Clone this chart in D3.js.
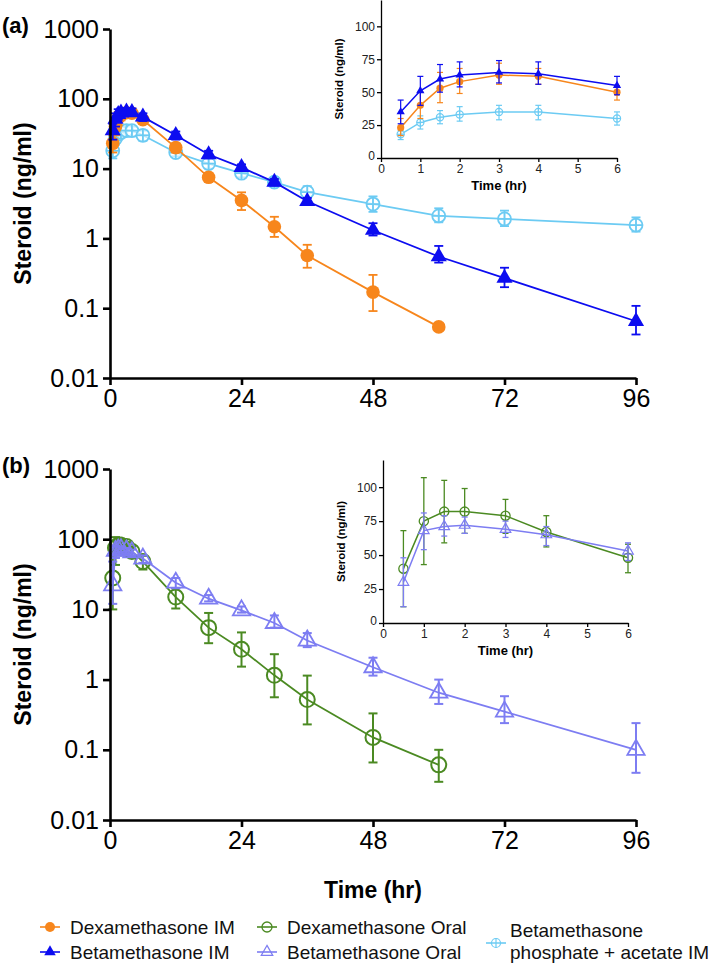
<!DOCTYPE html>
<html>
<head>
<meta charset="utf-8">
<title>Steroid concentration</title>
<style>
  body { margin: 0; background: #fff; }
  svg { display: block; font-family: "Liberation Sans", Arial, sans-serif; }
</style>
</head>
<body>
<svg width="709" height="963"></svg>
<script src="https://d3js.org/d3.v7.min.js"></script>
<script>

// ---- data (ng/ml) ----
var timesAll = [0.5, 1, 1.5, 2, 3, 4, 6, 12, 18, 24, 30, 36, 48, 60, 72, 96];
var timesDex = [0.5, 1, 1.5, 2, 3, 4, 6, 12, 18, 24, 30, 36, 48, 60];

var dexIM   = [23, 40, 53, 58, 63, 62, 50, 20, 7.5, 3.5, 1.47, 0.57, 0.17, 0.054];
var dexIMLo = [17, 30, 42, 49, 56, 56, 44, 17, 6.5, 2.55, 1.05, 0.38, 0.091, null];
var dexIMHi = [30, 50, 65, 68, 72, 68, 55, 23, 8.7, 4.57, 2.04, 0.81, 0.30, null];

var betIM   = [35, 51, 60, 63, 65, 64, 55, 30, 15.9, 10.4, 6.4, 3.4, 1.31, 0.55, 0.27, 0.065];
var betIMLo = [26, 40, 50, 54, 57, 56, 48, 26, 14, 9.3, 5.7, 3.0, 1.1, 0.45, 0.2, 0.042];
var betIMHi = [44, 62, 71, 73, 74, 73, 62, 34, 18, 11.5, 7.1, 3.8, 1.65, 0.78, 0.38, 0.108];

var betPA   = [18, 27, 31, 33, 35, 35, 30, 17, 11.8, 8.6, 6.4, 4.6, 3.1, 2.1, 1.9, 1.55];
var betPALo = [14, 22, 26, 28, 29, 29, 25, 15, 10, 7.5, 5.5, 3.8, 2.4, 1.7, 1.5, 1.25];
var betPAHi = [21, 32, 36, 39, 40, 40, 35, 20, 14, 9.8, 7.5, 5.6, 4.0, 2.7, 2.5, 2.0];

var dexOral   = [28, 75, 82, 82, 79, 67, 48, 15, 5.5, 2.7, 1.15, 0.52, 0.15, 0.061];
var dexOralLo = [10, 43, 59, 66, 66, 56, 37, 10.3, 3.3, 1.53, 0.56, 0.23, 0.066, 0.035];
var dexOralHi = [68, 107, 105, 99, 91, 79, 58, 20, 8.9, 4.7, 2.3, 1.14, 0.33, 0.1];

var betOral   = [22, 68, 71, 72, 69, 65, 53, 24, 14.2, 9.7, 6.4, 3.6, 1.5, 0.65, 0.35, 0.1];
var betOralLo = [12, 54, 64, 66, 63, 57, 46, 20, 13, 9, 5.5, 2.9, 1.14, 0.45, 0.24, 0.047];
var betOralHi = [48, 81, 79, 78, 75, 71, 59, 28, 16, 11, 8.2, 4.6, 2.05, 1.0, 0.58, 0.24];

// insets (first 6 h, linear axis)
var insetTimes = [0.5, 1, 1.5, 2, 3, 4, 6];
var insetDexOral   = [40, 75, 82, 82, 79, 67, 48];
var insetDexOralLo = [12, 43, 59, 66, 66, 56, 37];
var insetBetOral   = [30, 68, 71, 72, 69, 65, 53];

var logTicks = [0.01, 0.1, 1, 10, 100, 1000];
var hourTicks = [0, 24, 48, 72, 96];
var insetYTicks = [0, 25, 50, 75, 100];
var insetXTicks = [0, 1, 2, 3, 4, 5, 6];

var legendItems = [
  {label: ["Dexamethasone IM"], color: "#f7861c", mark: "dot"},
  {label: ["Betamethasone IM"], color: "#0c0cf0", mark: "tri"},
  {label: ["Dexamethasone Oral"], color: "#4b8a22", mark: "ring"},
  {label: ["Betamethasone Oral"], color: "#7d7df2", mark: "openTri"},
  {label: ["Betamethasone", "phosphate + acetate IM"], color: "#6ccbf3", mark: "crossCircle"}
];

var cDex = "#f7861c", cBet = "#0c0cf0", cPA = "#6ccbf3", cDexO = "#4b8a22", cBetO = "#7d7df2";

var svg = d3.select("svg");
svg.append("rect").attr("width", 709).attr("height", 963).attr("fill", "#fff");

// draw a marker of a given kind at (0,0) in selection g
function marker(g, kind, color, s) {
  if (kind == "dot") {
    g.append("circle").attr("r", s).attr("fill", color);
  } else if (kind == "tri") {
    g.append("path").attr("d", d3.symbol(d3.symbolTriangle, s * s * 2.3)()).attr("fill", color);
  } else if (kind == "ring") {
    g.append("circle").attr("r", s).attr("fill", "none").attr("stroke", color).attr("stroke-width", s > 5 ? 2 : 1.3);
  } else if (kind == "openTri") {
    g.append("path").attr("d", d3.symbol(d3.symbolTriangle, s * s * 2.3)())
      .attr("fill", "none").attr("stroke", color).attr("stroke-width", s > 5 ? 1.8 : 1.2);
  } else if (kind == "crossCircle") {
    var w = s > 5 ? 1.8 : 1.2;
    g.append("circle").attr("r", s).attr("fill", "#fff").attr("fill-opacity", 0.6)
      .attr("stroke", color).attr("stroke-width", w);
    g.append("line").attr("x1", -s).attr("x2", s).attr("stroke", color).attr("stroke-width", w);
    g.append("line").attr("y1", -s).attr("y2", s).attr("stroke", color).attr("stroke-width", w);
  }
}

function drawSeries(g, x, y, times, vals, lo, hi, color, kind, opt) {
  var pts = times.map(function(t, i) { return {t: t, v: vals[i], lo: lo[i], hi: hi[i]}; });
  var line = d3.line().x(function(d) { return x(d.t); }).y(function(d) { return y(d.v); });

  g.append("path").datum(pts)
    .attr("fill", "none").attr("stroke", color).attr("stroke-width", opt.lw)
    .attr("d", line);

  var eb = g.append("g").attr("stroke", color).attr("stroke-width", opt.ew);
  pts.filter(function(d) { return d.lo != null; }).forEach(function(d) {
    var cx = x(d.t);
    eb.append("line").attr("x1", cx).attr("x2", cx).attr("y1", y(d.lo)).attr("y2", y(d.hi));
    eb.append("line").attr("x1", cx - opt.cap).attr("x2", cx + opt.cap).attr("y1", y(d.lo)).attr("y2", y(d.lo));
    eb.append("line").attr("x1", cx - opt.cap).attr("x2", cx + opt.cap).attr("y1", y(d.hi)).attr("y2", y(d.hi));
  });

  pts.forEach(function(d) {
    var m = g.append("g").attr("transform", "translate(" + x(d.t) + "," + y(d.v) + ")");
    marker(m, kind, color, opt.size);
  });
}

function mainAxes(g, x, y) {
  var ax = g.append("g").attr("transform", "translate(0," + y.range()[0] + ")")
    .call(d3.axisBottom(x).tickValues(hourTicks).tickSize(7).tickSizeOuter(0).tickPadding(4));
  var ay = g.append("g").attr("transform", "translate(" + x.range()[0] + ",0)")
    .call(d3.axisLeft(y).tickValues(logTicks).tickSize(7).tickSizeOuter(0).tickPadding(4)
      .tickFormat(function(d) { return d >= 1 ? d3.format("d")(d) : String(d); }));
  [ax, ay].forEach(function(a) {
    a.selectAll("path, line").attr("stroke", "#000").attr("stroke-width", 2.6);
    a.selectAll("text").attr("font-size", 25).attr("fill", "#000").attr("font-family", null);
  });
}

function insetAxes(g, x, y) {
  var ax = g.append("g").attr("transform", "translate(0," + y.range()[0] + ")")
    .call(d3.axisBottom(x).tickValues(insetXTicks).tickSize(4).tickSizeOuter(0).tickPadding(2)
      .tickFormat(d3.format("d")));
  var ay = g.append("g").attr("transform", "translate(" + x.range()[0] + ",0)")
    .call(d3.axisLeft(y).tickValues(insetYTicks).tickSize(4).tickSizeOuter(0).tickPadding(2)
      .tickFormat(d3.format("d")));
  [ax, ay].forEach(function(a) {
    a.selectAll("path, line").attr("stroke", "#000").attr("stroke-width", 1.3);
    a.selectAll("text").attr("font-size", 12).attr("fill", "#222").attr("font-family", null);
  });
  // nudge the y "0" up a little so it clears the x "0"
  ay.selectAll(".tick text").filter(function(d) { return d == 0; }).attr("dy", "0.1em");
  g.append("text")
    .attr("x", (x.range()[0] + x.range()[1]) / 2).attr("y", y.range()[0] + 32)
    .attr("text-anchor", "middle").attr("font-weight", "bold").attr("font-size", 13)
    .text("Time (hr)");
  g.append("text")
    .attr("transform", "translate(" + (x.range()[0] - 38) + "," + ((y.range()[0] + y.range()[1]) / 2) + ") rotate(-90)")
    .attr("text-anchor", "middle").attr("font-weight", "bold").attr("font-size", 11.5)
    .text("Steroid (ng/ml)");
}

// ---------------- panel (a) ----------------
var xa = d3.scaleLinear().domain([0, 96]).range([110, 636]);
var ya = d3.scaleLog().domain([0.01, 1000]).range([378, 29]);
var ga = svg.append("g");

drawSeries(ga, xa, ya, timesAll, betPA, betPALo, betPAHi, cPA, "crossCircle", {lw: 1.8, ew: 1.8, cap: 4.5, size: 6.5});
drawSeries(ga, xa, ya, timesDex, dexIM, dexIMLo, dexIMHi, cDex, "dot", {lw: 1.8, ew: 1.8, cap: 4.5, size: 6.8});
drawSeries(ga, xa, ya, timesAll, betIM, betIMLo, betIMHi, cBet, "tri", {lw: 1.8, ew: 1.8, cap: 4.5, size: 7});
mainAxes(ga, xa, ya);

ga.append("text").attr("x", 2).attr("y", 33).attr("font-weight", "bold").attr("font-size", 22).text("(a)");
ga.append("text")
  .attr("transform", "translate(31," + ((ya.range()[0] + ya.range()[1]) / 2) + ") rotate(-90)")
  .attr("text-anchor", "middle").attr("font-weight", "bold").attr("font-size", 23)
  .text("Steroid (ng/ml)");

// inset (a)
var xia = d3.scaleLinear().domain([0, 6]).range([381, 617]);
var yia = d3.scaleLinear().domain([0, 120]).range([158, 0]);
var gia = svg.append("g");
var insetOpt = {lw: 1.5, ew: 1.2, cap: 3, size: 3.6};
drawSeries(gia, xia, yia, insetTimes, betPA.slice(0, 7), betPALo.slice(0, 7), betPAHi.slice(0, 7), cPA, "crossCircle", insetOpt);
drawSeries(gia, xia, yia, insetTimes, dexIM.slice(0, 7), dexIMLo.slice(0, 7), dexIMHi.slice(0, 7), cDex, "dot", insetOpt);
drawSeries(gia, xia, yia, insetTimes, betIM.slice(0, 7), betIMLo.slice(0, 7), betIMHi.slice(0, 7), cBet, "tri", insetOpt);
insetAxes(gia, xia, yia);

// ---------------- panel (b) ----------------
var xb = d3.scaleLinear().domain([0, 96]).range([110, 636]);
var yb = d3.scaleLog().domain([0.01, 1000]).range([820, 469]);
var gb = svg.append("g");

drawSeries(gb, xb, yb, timesDex, dexOral, dexOralLo, dexOralHi, cDexO, "ring", {lw: 1.8, ew: 2, cap: 4.5, size: 7.5});
drawSeries(gb, xb, yb, timesAll, betOral, betOralLo, betOralHi, cBetO, "openTri", {lw: 1.8, ew: 2, cap: 4.5, size: 7.5});
mainAxes(gb, xb, yb);

gb.append("text").attr("x", 2).attr("y", 473).attr("font-weight", "bold").attr("font-size", 22).text("(b)");
gb.append("text")
  .attr("transform", "translate(31," + ((yb.range()[0] + yb.range()[1]) / 2) + ") rotate(-90)")
  .attr("text-anchor", "middle").attr("font-weight", "bold").attr("font-size", 23)
  .text("Steroid (ng/ml)");
gb.append("text")
  .attr("x", (xb.range()[0] + xb.range()[1]) / 2).attr("y", 898)
  .attr("text-anchor", "middle").attr("font-weight", "bold").attr("font-size", 23)
  .text("Time (hr)");

// inset (b)
var xib = d3.scaleLinear().domain([0, 6]).range([383, 628]);
var yib = d3.scaleLinear().domain([0, 120]).range([623, 460]);
var gib = svg.append("g");
var insetOptB = {lw: 1.5, ew: 1.3, cap: 3, size: 4.6};
drawSeries(gib, xib, yib, insetTimes, insetDexOral, insetDexOralLo, dexOralHi.slice(0, 7), cDexO, "ring", insetOptB);
drawSeries(gib, xib, yib, insetTimes, insetBetOral, betOralLo.slice(0, 7), betOralHi.slice(0, 7), cBetO, "openTri", insetOptB);
insetAxes(gib, xib, yib);

// ---------------- legend ----------------
var legendPos = [
  {x: 40, y: 927}, {x: 40, y: 952}, {x: 257, y: 927}, {x: 257, y: 952}, {x: 486, y: 943}
];
var lg = svg.append("g").attr("font-size", 19);
legendItems.forEach(function(d, i) {
  var p = legendPos[i];
  var item = lg.append("g").attr("transform", "translate(" + p.x + "," + p.y + ")");
  item.append("line").attr("x1", 0).attr("x2", 20).attr("stroke", d.color).attr("stroke-width", 1.6);
  var m = item.append("g").attr("transform", "translate(10,0)");
  marker(m, d.mark, d.color, i == 4 ? 4.5 : 5);
  var tx = i == 4 ? 24 : 30;
  if (d.label.length == 1) {
    item.append("text").attr("x", tx).attr("y", 7).attr("fill", "#111").text(d.label[0]);
  } else {
    item.append("text").attr("x", tx).attr("y", -6).attr("fill", "#111").text(d.label[0]);
    item.append("text").attr("x", tx).attr("y", 16).attr("fill", "#111").text(d.label[1]);
  }
});

</script>
</body>
</html>
